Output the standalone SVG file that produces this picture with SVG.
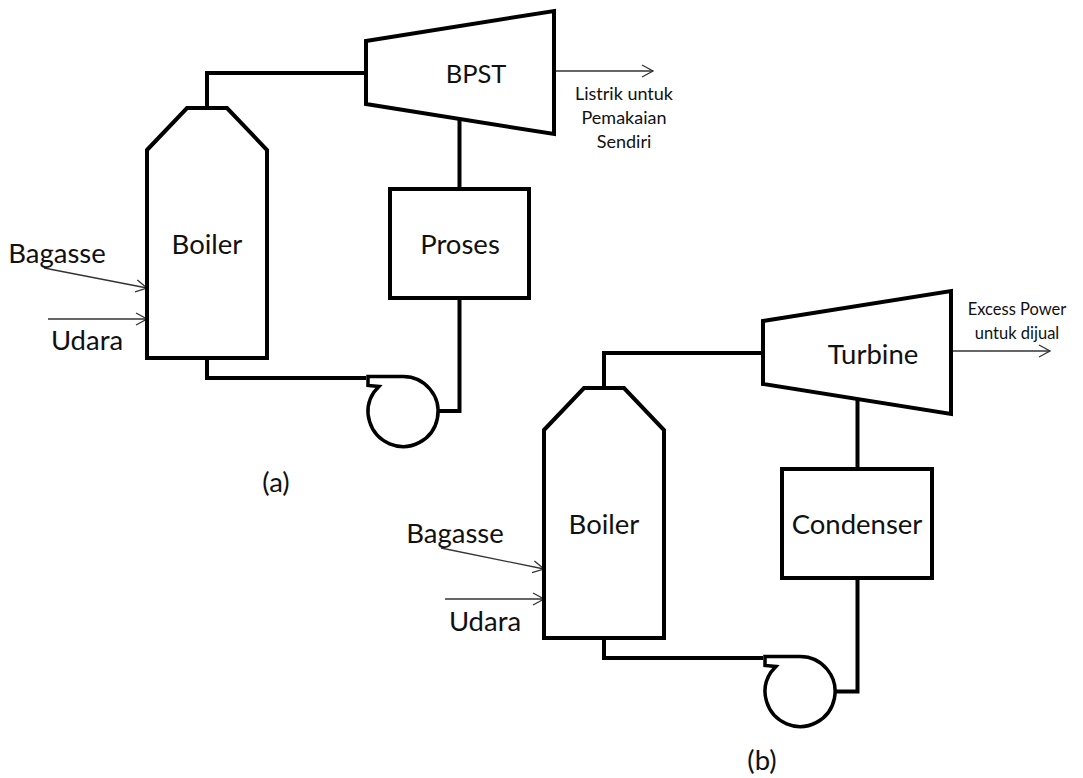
<svg xmlns="http://www.w3.org/2000/svg" width="1083" height="778" viewBox="0 0 1083 778">
<defs>
<style>
.s{fill:none;stroke:#000;stroke-width:4;stroke-linejoin:miter}
.p{fill:none;stroke:#000;stroke-width:3.5;stroke-linejoin:miter}
.t{fill:none;stroke:#333;stroke-width:1.3}
text{font-family:Lato,"Liberation Sans",sans-serif;fill:#111;text-anchor:middle}
.l{font-size:27.5px}
.b{font-size:25.5px}
.x{font-size:18px}
.y{font-size:16.5px}
</style>
<marker id="a" markerUnits="userSpaceOnUse" markerWidth="14" markerHeight="16" refX="12" refY="7" orient="auto"><path d="M1 1L12 7L1 13" fill="none" stroke="#333" stroke-width="1.3"/></marker>
<path id="pump" class="p" d="M368 376.5H403A35 35 0 1 1 374 392L379 386.5L368 385.5Z"/>
</defs>
<rect width="1083" height="778" fill="#fff"/>
<g id="connectors">
<path class="s" d="M207 108V73H366"/>
<path class="s" d="M459.5 120V189"/>
<path class="s" d="M459.5 298V411H438"/>
<path class="s" d="M207 358V378H366"/>
<path class="t" marker-end="url(#a)" d="M44 268L147 288"/>
<path class="t" marker-end="url(#a)" d="M48 319H147"/>
<path class="t" marker-end="url(#a)" d="M556 71H653"/>
<path class="s" d="M604 388V353H763"/>
<path class="s" d="M857.5 400V469"/>
<path class="s" d="M857.5 578V691.5H835"/>
<path class="s" d="M604 638V658H763"/>
<path class="t" marker-end="url(#a)" d="M441 548L544 569"/>
<path class="t" marker-end="url(#a)" d="M445 599H544"/>
<path class="t" marker-end="url(#a)" d="M953 351H1050"/>
</g>
<g id="boiler-a"><path class="s" d="M147 150L187 108H227L267 150V358H147Z"/><text class="l" x="207" y="254">Boiler</text></g>
<g id="bpst"><path class="s" d="M366 41L554 11V134L366 104Z"/><text class="b" x="476" y="83">BPST</text></g>
<g id="proses"><rect class="s" x="390" y="189" width="139" height="109"/><text class="l" x="460" y="254">Proses</text></g>
<g id="pump-a"><use href="#pump"/></g>
<g id="boiler-b"><path class="s" d="M544 430L584 388H624L664 430V638H544Z"/><text class="l" x="604" y="534">Boiler</text></g>
<g id="turbine"><path class="s" d="M763 321L951 291V414L763 384Z"/><text class="l" x="873" y="364">Turbine</text></g>
<g id="condenser"><rect class="s" x="782" y="469" width="150" height="109"/><text class="l" x="857" y="534">Condenser</text></g>
<g id="pump-b"><use href="#pump" x="397" y="280"/></g>
<g id="labels">
<text class="l" x="57" y="263">Bagasse</text>
<text class="l" x="87" y="350">Udara</text>
<text class="l" x="455" y="543">Bagasse</text>
<text class="l" x="485" y="631">Udara</text>
<text class="l" x="276" y="492">(a)</text>
<text class="l" x="762" y="770">(b)</text>
<text class="x" x="624" y="100">Listrik untuk</text>
<text class="x" x="624" y="124">Pemakaian</text>
<text class="x" x="624" y="148">Sendiri</text>
<text class="y" x="1017" y="315">Excess Power</text>
<text class="y" x="1017" y="339">untuk dijual</text>
</g>
</svg>
